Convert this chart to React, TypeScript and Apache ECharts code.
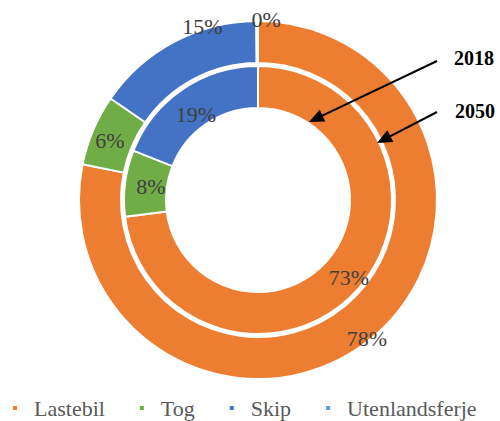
import React, { useEffect, useRef } from "react";
import * as echarts from "echarts";

const categories = ["Lastebil", "Tog", "Skip", "Utenlandsferje"];
const colors = ["#ED7D31", "#70AD47", "#4472C4", "#5B9BD5"];
const values2050 = [78.2, 6.4, 15.25, 0.15];
const values2018 = [73, 8, 19, 0];
const ringLabels = ["2018", "2050"];

const SERIF = "'Liberation Serif', 'DejaVu Serif', serif";

// label nudges (annotation placement only)
const outerNudge = [
  [7, 14],
  [0, 4],
  [20, -31],
  [9, -20],
];
const innerNudge = [
  [4, 1],
  [8, 1],
  [3, 10],
  [0, 0],
];

function arrow(tail: number[], tip: number[]) {
  const dx = tip[0] - tail[0];
  const dy = tip[1] - tail[1];
  const len = Math.sqrt(dx * dx + dy * dy);
  const ux = dx / len;
  const uy = dy / len;
  const hl = 15;
  const hw = 6.5;
  const bx = tip[0] - ux * hl;
  const by = tip[1] - uy * hl;
  const px = -uy * hw;
  const py = ux * hw;
  return [
    {
      type: "line",
      shape: { x1: tail[0], y1: tail[1], x2: bx + ux * 2, y2: by + uy * 2 },
      style: { stroke: "#000", lineWidth: 2 },
      z: 100,
    },
    {
      type: "polygon",
      shape: {
        points: [
          [tip[0], tip[1]],
          [bx + px, by + py],
          [bx - px, by - py],
        ],
      },
      style: { fill: "#000" },
      z: 100,
    },
  ];
}

export default function App() {
  const ref = useRef<HTMLDivElement>(null);
  useEffect(() => {
    if (!ref.current) return;
    const chart = echarts.init(ref.current, null, { renderer: "svg" });
    const labelStyle = {
      show: true,
      position: "inside",
      color: "#404040",
      fontFamily: SERIF,
      fontSize: 22,
      formatter: (p: any) => Math.round(p.percent) + "%",
    };
    const mk = (vals: number[]) =>
      categories.map((c, i) => ({
        name: c,
        value: vals[i],
        itemStyle: { color: colors[i] },
        label: vals[i] === 0 ? { show: false } : undefined,
      }));
    chart.setOption({
      animation: false,
      color: colors,
      legend: {
        data: categories,
        left: 6,
        top: 392,
        icon: "rect",
        itemWidth: 6,
        itemHeight: 6,
        itemGap: 33,
        textStyle: {
          fontFamily: SERIF,
          fontSize: 22,
          color: "#595959",
          padding: [0, 0, 0, 11],
        },
      },
      series: [
        {
          type: "pie",
          name: "2050",
          center: [258, 200],
          radius: [137, 179],
          startAngle: 90,
          clockwise: true,
          avoidLabelOverlap: false,
          itemStyle: { borderColor: "#fff", borderWidth: 2 },
          label: labelStyle,
          labelLine: { show: false },
          labelLayout: (p: any) => ({
            dx: outerNudge[p.dataIndex][0],
            dy: outerNudge[p.dataIndex][1],
          }),
          emphasis: { disabled: true },
          data: mk(values2050),
        },
        {
          type: "pie",
          name: "2018",
          center: [258, 200],
          radius: [92, 134],
          startAngle: 90,
          clockwise: true,
          avoidLabelOverlap: false,
          itemStyle: { borderColor: "#fff", borderWidth: 2 },
          label: labelStyle,
          labelLine: { show: false },
          labelLayout: (p: any) => ({
            dx: innerNudge[p.dataIndex][0],
            dy: innerNudge[p.dataIndex][1],
          }),
          emphasis: { disabled: true },
          data: mk(values2018),
        },
      ],
      graphic: [
        ...arrow([437, 61], [309, 122]),
        ...arrow([437, 112], [377, 143]),
        {
          type: "text",
          x: 474,
          y: 58,
          style: {
            text: ringLabels[0],
            fontFamily: SERIF,
            fontWeight: "bold",
            fontSize: 20,
            fill: "#000",
            align: "center",
            verticalAlign: "middle",
          },
        },
        {
          type: "text",
          x: 475,
          y: 111,
          style: {
            text: ringLabels[1],
            fontFamily: SERIF,
            fontWeight: "bold",
            fontSize: 20,
            fill: "#000",
            align: "center",
            verticalAlign: "middle",
          },
        },
      ],
    });
    return () => chart.dispose();
  }, []);
  return (
    <div
      ref={ref}
      style={{ position: "absolute", left: 0, top: 0, width: 500, height: 421 }}
    />
  );
}
